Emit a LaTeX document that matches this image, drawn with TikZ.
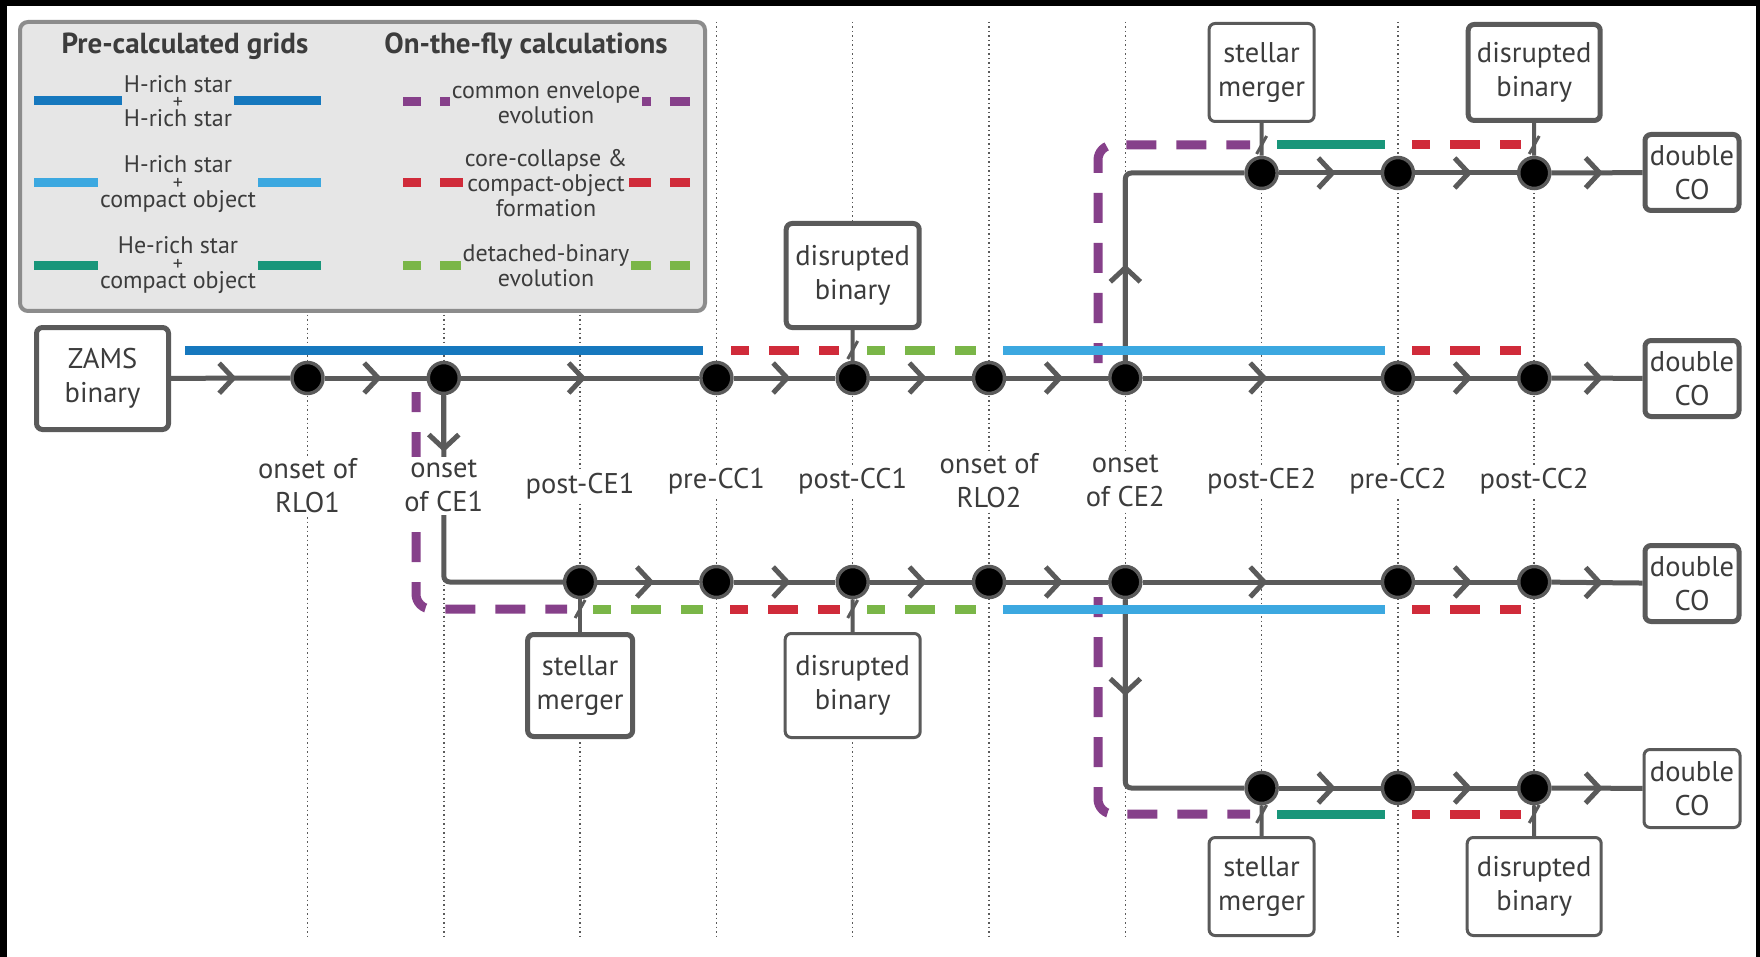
\documentclass[tikz,border=0pt]{standalone}
\usepackage{fontspec}
\setmainfont{PT Sans}
\usetikzlibrary{arrows.meta,decorations.markings}

\definecolor{hhblue}{RGB}{22,120,190}
\definecolor{hcblue}{RGB}{60,168,224}
\definecolor{hecteal}{RGB}{25,150,122}
\definecolor{cepurple}{RGB}{134,64,138}
\definecolor{ccred}{RGB}{208,43,58}
\definecolor{dbgreen}{RGB}{122,182,72}
\definecolor{linegrey}{RGB}{90,90,90}
\definecolor{textgrey}{RGB}{60,60,60}
\definecolor{legendfill}{RGB}{230,230,230}
\definecolor{legendedge}{RGB}{140,140,140}

\tikzset{
  event/.style={circle, fill=black, draw=linegrey, line width=3.5pt, minimum size=31pt, inner sep=0pt},
  outcome/.style={draw=linegrey, fill=white, rounded corners=6pt, align=center, inner sep=1pt, text=textgrey, font=\fontsize{28.5}{34}\selectfont},
  bold outcome/.style={outcome, line width=5pt},
  faint outcome/.style={outcome, line width=3pt},
  flowline/.style={draw=linegrey, line width=5pt},
  flow/.style={flowline, postaction={decorate}, decoration={markings, mark=at position 0.5 with {\arrow[xshift=6pt]{Straight Barb[length=14pt,width=30pt]}}}},
  link/.style={draw=linegrey, line width=4pt},
  track/.style={line width=9pt},
  dashtrack/.style={track, dash pattern=on 30pt off 20pt, dash phase=12pt},
  keytrack/.style={track, dash pattern=on 27pt off 19pt, dash phase=9pt},
  stage/.style={fill=white, inner sep=3pt, align=center, text=textgrey, font=\fontsize{28.5}{34}\selectfont},
  guide/.style={draw=linegrey, line width=1.5pt, dash pattern=on 1.5pt off 3pt},
  legendhead/.style={text=textgrey, font=\fontsize{29}{32}\selectfont\bfseries},
  legendtext/.style={fill=legendfill, inner xsep=2pt, inner ysep=0pt, align=center, text=textgrey},
}

\begin{document}
\begin{tikzpicture}[x=1pt,y=-1pt]
\useasboundingbox (0,0) rectangle (1760,957);
\fill[black] (0,0) rectangle (1760,957);
\fill[white] (7,6) rectangle (1756,957);

% stage guides
\foreach \i in {1,...,10}
  \draw[guide] (171.2+136.3*\i,22) -- (171.2+136.3*\i,937);

% legend
\draw[line width=4pt, draw=legendedge, fill=legendfill, rounded corners=8pt] (20,22) rectangle (705,311);
\node[legendhead] (gridhead) at (185,46) {Pre-calculated grids};
\node[legendhead] (flyhead) at (526,46) {On-the-fly calculations};
\draw[track, hhblue] (34,101) -- (321,101);
\draw[track, hcblue] (34,183) -- (321,183);
\draw[track, hecteal] (34,266) -- (321,266);
\draw[keytrack, cepurple] (403,102) -- (690,102);
\draw[keytrack, ccred] (403,183) -- (690,183);
\draw[keytrack, dbgreen] (403,266) -- (690,266);
\node[legendtext, font=\fontsize{24}{16.5}\selectfont] (hhkey) at (178,101) {H-rich star\\{\fontsize{20}{16.5}\selectfont+}\\H-rich star};
\node[legendtext, font=\fontsize{24}{16.5}\selectfont] (hckey) at (178,184) {H-rich star\\{\fontsize{20}{16.5}\selectfont+}\\compact object};
\node[legendtext, font=\fontsize{24}{16.5}\selectfont] (heckey) at (178,265) {He-rich star\\{\fontsize{20}{16.5}\selectfont+}\\compact object};
\node[legendtext, font=\fontsize{24}{25}\selectfont] (cekey) at (546,102.5) {common envelope\\evolution};
\node[legendtext, font=\fontsize{24}{25}\selectfont] (cckey) at (546,183) {core-collapse \&\\compact-object\\formation};
\node[legendtext, font=\fontsize{24}{25}\selectfont] (dbkey) at (546,265.5) {detached-binary\\evolution};

% events
\foreach \i in {1,2,4,5,6,7,9,10}
  \node[event] (m\i) at (171.2+136.3*\i,378) {};
\foreach \i in {3,4,5,6,7,9,10}
  \node[event] (c\i) at (171.2+136.3*\i,582) {};
\foreach \i in {8,9,10}
  \node[event] (t\i) at (171.2+136.3*\i,173) {};
\foreach \i in {8,9,10}
  \node[event] (b\i) at (171.2+136.3*\i,788) {};

% start and end states
\node[bold outcome, minimum width=132pt, minimum height=102pt] (zams) at (102.5,378.5) {ZAMS\\binary};
\node[bold outcome, minimum width=94pt, minimum height=76pt] (dco1) at (1692,172.5) {double\\CO};
\node[bold outcome, minimum width=94pt, minimum height=76pt] (dco2) at (1692,378.5) {double\\CO};
\node[bold outcome, minimum width=94pt, minimum height=76pt] (dco3) at (1692,583.5) {double\\CO};
\node[faint outcome, minimum width=96pt, minimum height=78pt] (dco4) at (1692,788.5) {double\\CO};

% failed outcomes
\node[bold outcome, minimum width=133pt, minimum height=104pt] (dbA) at (852.7,275.5) {disrupted\\binary};
\node[bold outcome, minimum width=105pt, minimum height=102pt] (smB) at (580.1,685.5) {stellar\\merger};
\node[faint outcome, minimum width=135pt, minimum height=104pt] (dbB) at (852.7,685.5) {disrupted\\binary};
\node[faint outcome, minimum width=105pt, minimum height=98pt] (smC) at (1261.6,72.5) {stellar\\merger};
\node[bold outcome, minimum width=132pt, minimum height=96pt] (dbC) at (1534.2,72.5) {disrupted\\binary};
\node[faint outcome, minimum width=105pt, minimum height=98pt] (smD) at (1261.6,886.5) {stellar\\merger};
\node[faint outcome, minimum width=134pt, minimum height=98pt] (dbD) at (1534.2,886.5) {disrupted\\binary};

% evolution paths
\foreach \a/\b in {zams/m1,m1/m2,m2/m4,m4/m5,m5/m6,m6/m7,m7/m9,m9/m10,m10/dco2,
                   c3/c4,c4/c5,c5/c6,c6/c7,c7/c9,c9/c10,c10/dco3,
                   t8/t9,t9/t10,t10/dco1,b8/b9,b9/b10,b10/dco4}
  \draw[flow] (\a) -- (\b);

\draw[flowline, rounded corners=6pt] (m2) |- (c3);
\draw[flowline, -{Straight Barb[length=14pt,width=30pt]}] (m2) -- ++(0,74);

\coordinate (upturn) at (1125.3,180);
\draw[flowline, rounded corners=6pt] (m7) |- (t8);
\draw[flow] (m7) -- (upturn);

\coordinate (downturn) at (1125.3,781);
\draw[flowline, rounded corners=6pt] (c7) |- (b8);
\draw[flow] (c7) -- (downturn);

\foreach \a/\b in {dbA/m5,smB/c3,dbB/c5,smC/t8,dbC/t10,smD/b8,dbD/b10}
  \draw[link] (\a) -- (\b);

% common envelope phases
\draw[dashtrack, cepurple, dash phase=10pt, rounded corners=15pt] (416,392) -- (416,609) -- (567,609);
\draw[dashtrack, cepurple, dash phase=10pt, rounded corners=15pt] (1098,363) -- (1098,145) -- (1250,145);
\draw[dashtrack, cepurple, dash phase=10pt, rounded corners=15pt] (1098,597) -- (1098,814) -- (1250,814);

% main row
\draw[track, hhblue] (185,350) -- (703,350);
\draw[dashtrack, ccred] (731,350) -- (839,350);
\draw[dashtrack, dbgreen] (867,350) -- (976,350);
\draw[track, hcblue] (1003,350) -- (1385,350);
\draw[dashtrack, ccred] (1412,350) -- (1521,350);

% after first CE
\draw[dashtrack, dbgreen] (593,609) -- (703,609);
\draw[dashtrack, ccred] (730,609) -- (840,609);
\draw[dashtrack, dbgreen] (867,609) -- (976,609);
\draw[track, hcblue] (1003,609) -- (1385,609);
\draw[dashtrack, ccred] (1412,609) -- (1521,609);

% after second CE
\draw[track, hecteal] (1277,145) -- (1385,145);
\draw[dashtrack, ccred] (1412,145) -- (1521,145);
\draw[track, hecteal] (1277,814) -- (1385,814);
\draw[dashtrack, ccred] (1412,814) -- (1521,814);

% breaks
\foreach \x/\y in {852.7/350,580.1/609,852.7/609,1261.6/145,1534.2/145,1261.6/814,1534.2/814}
  \draw[link, line width=3pt] (\x-5,\y+9) -- (\x+5,\y-9);

% stage labels
\foreach \i/\txt/\y in {1/{onset of\\RLO1}/486,2/{onset\\of CE1}/486,3/post-CE1/486,4/pre-CC1/481,5/post-CC1/481,
                     6/{onset of\\RLO2}/481,7/{onset\\of CE2}/481,8/post-CE2/481,9/pre-CC2/481,10/post-CC2/481}
  \node[stage] (s\i) at (171.2+136.3*\i,\y) {\txt};
\end{tikzpicture}
\end{document}
